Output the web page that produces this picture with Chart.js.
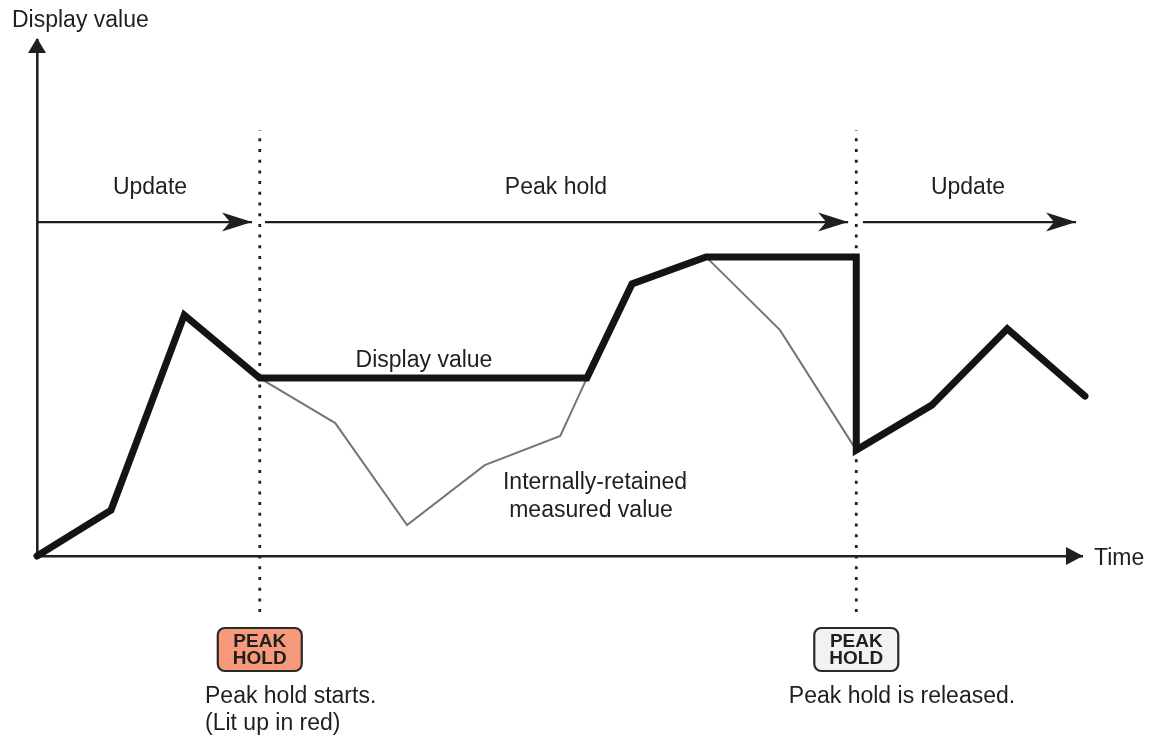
<!DOCTYPE html>
<html>
<head>
<meta charset="utf-8">
<style>html,body{margin:0;padding:0;background:#fff}canvas{display:block}</style>
<script src="https://cdn.jsdelivr.net/npm/chart.js@4"></script>
</head>
<body>
<canvas id="c" width="1149" height="735"></canvas>
<script>
// Data (time units, display-value units)
const displayTimes = [0, 1, 1.99, 3.01, 7.43, 8.04, 9.04, 11.07, 11.07, 12.09, 13.11, 14.16];
const displayValues = [0, 15.3, 80.3, 59.3, 59.3, 90.7, 99.7, 99.7, 35.3, 50.3, 75.7, 53.3];
const internalTimes = [3.01, 4.03, 5.0, 6.05, 7.07, 7.43, 8.2, 9.04, 10.04, 11.07];
const internalValues = [59.3, 44.3, 10.3, 30.3, 40, 59.3, null, 99.7, 75.3, 35.3];
const phaseLevel = 111.3;
const phaseStarts = [0.01, 3.08, 11.16];
const phaseEnds = [2.905, 10.96, 14.04];
const phaseNames = ['Update', 'Peak hold', 'Update'];
const holdStart = 3.01;
const holdRelease = 11.07;
const markerTop = 142;
const markerBottom = -18.7;

const pts = (xs, ys) => xs.map((x, i) => ({x, y: ys[i]}));
const INK = '#1f1f1f';
const FONT = '"Liberation Sans", Arial, sans-serif';

const datasets = [
  {data: pts(displayTimes, displayValues), borderColor: '#141414', borderWidth: 7,
   borderCapStyle: 'round', borderJoinStyle: 'miter'},
  {data: pts(internalTimes, internalValues), borderColor: '#757575', borderWidth: 2,
   borderJoinStyle: 'miter', spanGaps: false},
  {data: pts([holdStart, holdStart], [markerBottom, markerTop]), borderColor: '#222', borderWidth: 2.8, borderDash: [3, 7.7]},
  {data: pts([holdRelease, holdRelease], [markerBottom, markerTop]), borderColor: '#222', borderWidth: 2.8, borderDash: [3, 7.7]},
  ...phaseStarts.map((s, i) => ({
    data: pts([s, phaseEnds[i]], [phaseLevel, phaseLevel]), borderColor: INK, borderWidth: 2.2, arrow: true
  }))
];
datasets.forEach(d => { d.pointRadius = 0; d.pointHoverRadius = 0; d.tension = 0; d.fill = false; d.clip = false; });

const textLabels = [
  {t: 'Display value', x: 12, y: 21, a: 'left'},
  {t: phaseNames[0], x: 150, y: 188, a: 'center'},
  {t: phaseNames[1], x: 556, y: 188, a: 'center'},
  {t: phaseNames[2], x: 968, y: 188, a: 'center'},
  {t: 'Display value', x: 424, y: 361, a: 'center'},
  {t: 'Internally-retained', x: 595, y: 483, a: 'center'},
  {t: 'measured value', x: 591, y: 511, a: 'center'},
  {t: 'Time', x: 1094, y: 559, a: 'left'},
  {t: 'Peak hold starts.', x: 205, y: 697, a: 'left'},
  {t: '(Lit up in red)', x: 205, y: 724, a: 'left'},
  {t: 'Peak hold is released.', x: 902, y: 697, a: 'center'}
];

const overlay = {
  id: 'overlay',
  afterDatasetsDraw(chart) {
    const {ctx, chartArea: ca, scales: {x: sx, y: sy}} = chart;
    ctx.save();
    ctx.fillStyle = INK;

    // axis arrowheads
    ctx.beginPath();
    ctx.moveTo(ca.left, ca.top - 2); ctx.lineTo(ca.left + 9, ca.top + 13); ctx.lineTo(ca.left - 9, ca.top + 13);
    ctx.closePath(); ctx.fill();
    ctx.beginPath();
    ctx.moveTo(ca.right + 1, ca.bottom); ctx.lineTo(ca.right - 16, ca.bottom + 9); ctx.lineTo(ca.right - 16, ca.bottom - 9);
    ctx.closePath(); ctx.fill();

    // barbed phase arrowheads
    phaseEnds.forEach(e => {
      const px = sx.getPixelForValue(e), py = sy.getPixelForValue(phaseLevel);
      ctx.beginPath();
      ctx.moveTo(px, py); ctx.lineTo(px - 30, py - 9.5); ctx.lineTo(px - 22, py);
      ctx.lineTo(px - 30, py + 9.5); ctx.closePath(); ctx.fill();
    });

    // PEAK HOLD keys
    [[holdStart, '#f79a7b'], [holdRelease, '#f2f2f2']].forEach(([t, fill]) => {
      const cx = sx.getPixelForValue(t);
      ctx.beginPath();
      ctx.roundRect(cx - 42, 628, 84, 43, 7);
      ctx.fillStyle = fill; ctx.fill();
      ctx.lineWidth = 2.2; ctx.strokeStyle = '#2a2a2a'; ctx.stroke();
      ctx.fillStyle = INK;
      ctx.font = 'bold 19px ' + FONT;
      ctx.textAlign = 'center'; ctx.textBaseline = 'middle';
      ctx.fillText('PEAK', cx, 642);
      ctx.fillText('HOLD', cx, 659);
    });

    // text
    ctx.font = '23px ' + FONT;
    ctx.fillStyle = INK;
    ctx.textBaseline = 'middle';
    textLabels.forEach(l => { ctx.textAlign = l.a; ctx.fillText(l.t, l.x, l.y); });
    ctx.restore();
  }
};

const axisOpts = (min, max) => ({
  type: 'linear', min, max,
  ticks: {display: false},
  grid: {display: true, drawOnChartArea: false, drawTicks: false},
  border: {display: true, color: '#222', width: 2.6}
});

new Chart(document.getElementById('c'), {
  type: 'line',
  data: {datasets},
  options: {
    responsive: false,
    animation: false,
    events: [],
    layout: {padding: {left: 37, right: 67, top: 40, bottom: 179}},
    plugins: {legend: {display: false}, tooltip: {enabled: false}, title: {display: false}},
    scales: {x: axisOpts(0, 14.12), y: axisOpts(0, 172)}
  },
  plugins: [overlay]
});
</script>
</body>
</html>
